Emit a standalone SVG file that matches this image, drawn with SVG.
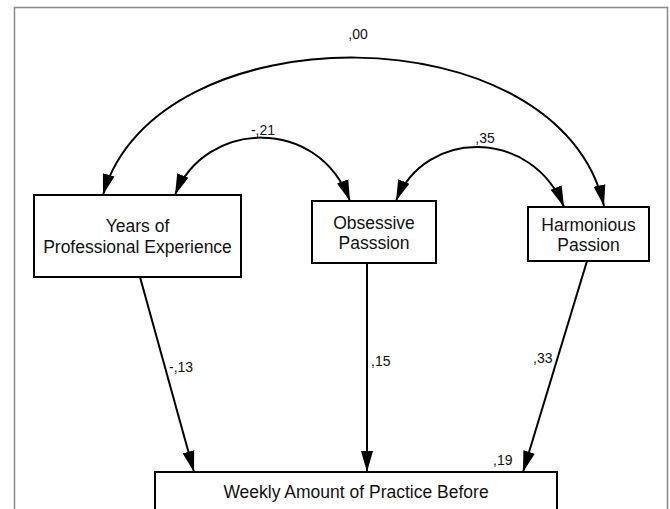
<svg xmlns="http://www.w3.org/2000/svg" width="670" height="509" viewBox="0 0 670 509">
<defs>
<marker id="ah" markerUnits="userSpaceOnUse" markerWidth="22" markerHeight="14" viewBox="0 0 22 14" refX="21" refY="7" orient="auto-start-reverse">
<path d="M0,1 L21,7 L0,13 Z" fill="#000"/>
</marker>
<style>
.box{fill:#fff;stroke:#000;stroke-width:2}
.lbl{font-family:"Liberation Sans",Arial,sans-serif;font-size:17.5px;fill:#111;text-anchor:middle}
.num{font-family:"Liberation Sans",Arial,sans-serif;font-size:14px;fill:#111}
.c{fill:none;stroke:#000;stroke-width:2}
</style>
</defs>
<rect width="670" height="509" fill="#fff"/>
<path d="M14.5,520 V7.5 H667.5 V520" fill="none" stroke="#8a8a8a" stroke-width="1.5"/>
<g id="connectors">
<path class="c" d="M103,195 C155,10 560,10 604,206" marker-start="url(#ah)" marker-end="url(#ah)"/>
<path class="c" d="M175,195 C205,120 318,115 350,201" marker-start="url(#ah)" marker-end="url(#ah)"/>
<path class="c" d="M396,201 C425,128 532,128 564,207" marker-start="url(#ah)" marker-end="url(#ah)"/>
<path class="c" d="M140,277 L194,472" marker-end="url(#ah)"/>
<path class="c" d="M367,263 L367,472" marker-end="url(#ah)"/>
<path class="c" d="M587,261 L523,472" marker-end="url(#ah)"/>
<text class="num" x="358" y="39" text-anchor="middle">,00</text>
<text class="num" x="263" y="135" text-anchor="middle">-,21</text>
<text class="num" x="485" y="143" text-anchor="middle">,35</text>
<text class="num" x="169" y="372">-,13</text>
<text class="num" x="371" y="366">,15</text>
<text class="num" x="533" y="363">,33</text>
<text class="num" x="493" y="465">,19</text>
</g>
<g id="years">
<rect class="box" x="34" y="195" width="207" height="82"/>
<text class="lbl" x="137.5" y="232">Years of</text>
<text class="lbl" x="137.5" y="253">Professional Experience</text>
</g>
<g id="obsessive">
<rect class="box" x="312" y="201" width="124" height="62"/>
<text class="lbl" x="374" y="229">Obsessive</text>
<text class="lbl" x="374" y="249">Passsion</text>
</g>
<g id="harmonious">
<rect class="box" x="528" y="207" width="121" height="54"/>
<text class="lbl" x="588.5" y="231">Harmonious</text>
<text class="lbl" x="588.5" y="251">Passion</text>
</g>
<g id="weekly">
<rect class="box" x="155" y="472" width="402" height="60"/>
<text class="lbl" x="356" y="498">Weekly Amount of Practice Before</text>
</g>
</svg>
